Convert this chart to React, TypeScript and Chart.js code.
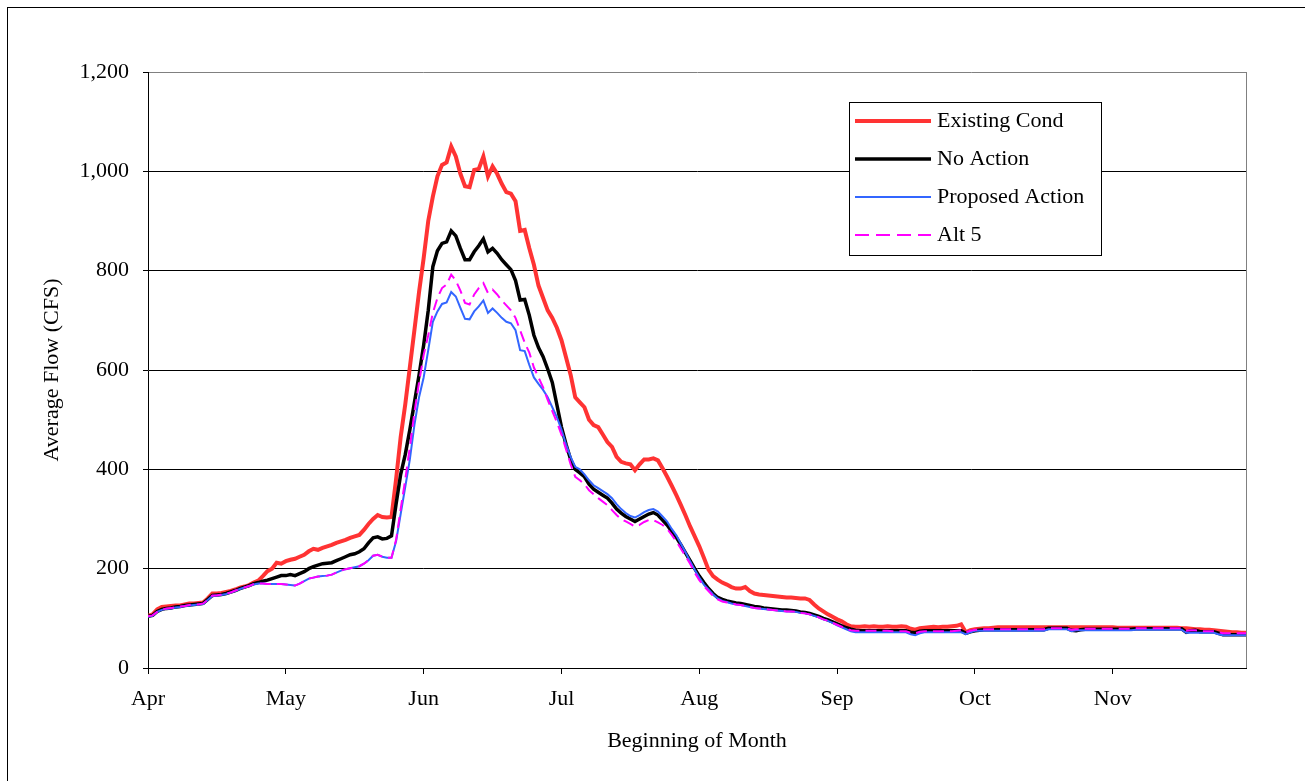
import React, { useEffect, useRef } from 'react';
import { Chart, registerables } from 'chart.js';

Chart.register(...registerables);

// Day index 0 = Apr 1
const MONTH_TICKS = [0, 30, 60, 90, 120, 150, 180, 210];
const MONTH_LABELS = ['Apr', 'May', 'Jun', 'Jul', 'Aug', 'Sep', 'Oct', 'Nov'];
const SERIES_LABELS = ['Existing Cond', 'No Action', 'Proposed Action', 'Alt 5'];

const EXISTING = [
  105, 108, 118, 123, 124, 125, 126, 126, 128, 130,
  130, 131, 132, 140, 150, 150, 151, 153, 155, 158,
  162, 164, 167, 172, 176, 185, 195, 200, 212, 210,
  215, 218, 220, 224, 228, 235, 240, 238, 242, 245,
  248, 252, 255, 258, 262, 265, 268, 278, 290, 300,
  308, 304, 303, 304, 380, 465, 531, 606, 681, 757,
  825, 900, 949, 990, 1013, 1018, 1050, 1030, 995, 970,
  968, 1003, 1005, 1030, 990, 1010, 995, 975, 958, 955,
  940, 880, 882, 845, 812, 770, 745, 720, 705, 685,
  660, 625, 590, 545, 535, 525, 500, 489, 485, 470,
  455, 445, 425, 415, 412, 410, 398, 410, 420, 420,
  422, 418, 402, 385, 367, 348, 328, 307, 285, 265,
  245, 222, 198, 185, 178, 172, 168, 163, 160, 160,
  163, 155, 150, 148, 147, 146, 145, 144, 143, 142,
  142, 141, 140, 140, 137, 128, 120, 114, 108, 103,
  98, 94, 88, 84, 83, 83, 84, 83, 84, 83,
  83, 84, 83, 83, 84, 83, 79, 77, 80, 81,
  82, 83, 82, 83, 83, 84, 85, 88, 72, 76,
  78, 79, 80, 80, 81, 82, 82, 82, 82, 82,
  82, 82, 82, 82, 82, 82, 82, 82, 82, 82,
  82, 82, 82, 82, 82, 82, 82, 82, 82, 82,
  82, 81, 81, 81, 81, 81, 81, 81, 81, 81,
  81, 81, 81, 81, 81, 80, 80, 79, 78, 78,
  77, 77, 76, 75, 74, 73, 72, 72, 71, 71,
];

const NO_ACTION = [
  104, 106, 114, 118, 120, 121, 123, 124, 126, 127,
  128, 129, 130, 138, 146, 147, 148, 150, 153, 156,
  160, 163, 166, 170, 172, 175, 177, 180, 183, 186,
  186, 188, 186, 190, 194, 200, 204, 207, 210, 211,
  212, 216, 220, 224, 228, 230, 234, 240, 252, 262,
  264, 260, 261, 266, 330, 390, 430, 480, 535, 590,
  650, 720, 808, 840, 855, 858, 880, 870, 845, 822,
  822, 838, 850, 864, 838, 845, 835, 822, 812, 802,
  780, 741, 742, 710, 670, 645, 627, 602, 575, 530,
  485, 450, 420, 400, 393, 385, 370, 360, 354, 348,
  342, 332, 320, 312, 305, 300, 295, 300, 305, 310,
  313, 308, 298, 288, 275, 263, 248, 232, 216, 200,
  185, 172, 160, 150, 142, 138, 135, 133, 131, 130,
  128, 126, 124, 123, 121, 120, 119, 118, 117, 117,
  116, 115, 113, 112, 110, 107, 104, 100, 97, 93,
  89, 85, 81, 78, 76, 75, 75, 75, 75, 75,
  75, 75, 75, 75, 75, 75, 72, 71, 74, 75,
  75, 75, 75, 75, 75, 75, 75, 75, 70, 73,
  75, 76, 77, 77, 77, 77, 77, 77, 77, 77,
  77, 77, 77, 77, 77, 77, 80, 80, 80, 80,
  80, 76, 75, 77, 78, 78, 78, 78, 78, 78,
  78, 78, 78, 78, 78, 79, 79, 79, 79, 79,
  79, 79, 79, 79, 79, 79, 72, 75, 76, 73,
  73, 73, 73, 70, 67, 67, 67, 67, 67, 67,
];

const PROPOSED = [
  103, 105, 113, 117, 119, 120, 122, 123, 125, 126,
  127, 128, 129, 137, 145, 146, 147, 149, 152, 155,
  159, 162, 165, 168, 170, 170, 169, 169, 169, 169,
  168, 167, 166, 170, 175, 180, 182, 184, 185, 186,
  188, 192, 196, 199, 201, 203, 205, 210, 217, 226,
  228, 224, 222, 222, 255, 310, 365, 420, 490, 545,
  585, 640, 697, 718, 733, 736, 757, 748, 725, 703,
  702, 718, 728, 740, 715, 724, 715, 705, 697, 694,
  680, 640, 638, 610, 585, 572, 560, 545, 525, 505,
  480, 450, 425, 405, 400, 390, 378, 368, 362, 356,
  350, 342, 330, 320, 312, 306, 303, 308, 314, 318,
  320, 315, 305, 295, 280, 267, 250, 233, 215, 198,
  182, 168, 158, 148, 140, 135, 133, 130, 128, 127,
  125, 123, 121, 120, 119, 118, 117, 116, 115, 114,
  114, 113, 111, 110, 108, 105, 102, 98, 95, 91,
  86, 82, 78, 74, 72, 72, 72, 72, 72, 72,
  72, 72, 72, 72, 72, 72, 68, 66, 70, 72,
  72, 72, 72, 72, 72, 72, 72, 72, 68, 72,
  75, 75, 75, 75, 75, 75, 75, 75, 75, 75,
  75, 75, 75, 75, 75, 75, 78, 78, 78, 78,
  78, 74, 76, 76, 76, 76, 76, 76, 76, 76,
  76, 76, 76, 76, 76, 77, 77, 77, 77, 77,
  77, 77, 77, 77, 77, 77, 71, 71, 71, 71,
  71, 71, 71, 68, 66, 66, 66, 66, 66, 66,
];

const ALT5 = [
  104, 106, 113, 117, 120, 121, 122, 124, 125, 127,
  128, 128, 130, 137, 146, 146, 148, 150, 152, 156,
  159, 162, 165, 169, 170, 170, 169, 169, 169, 169,
  168, 167, 166, 170, 175, 180, 182, 184, 185, 186,
  188, 192, 196, 199, 201, 203, 205, 210, 217, 226,
  228, 224, 222, 222, 258, 320, 380, 445, 515, 575,
  630, 670, 715, 745, 765, 772, 792, 780, 760, 735,
  732, 752, 765, 775, 755, 762, 752, 740, 730, 720,
  705, 680, 655, 635, 605, 585, 565, 540, 517, 495,
  470, 440, 410, 385, 378, 370, 358, 350, 342, 335,
  328, 318, 308, 300, 295, 290, 285, 288, 294, 298,
  298, 293, 288, 280, 268, 255, 240, 225, 210, 192,
  177, 165, 155, 145, 138, 134, 132, 130, 128, 127,
  125, 123, 121, 120, 119, 118, 117, 116, 115, 114,
  114, 113, 111, 110, 108, 105, 102, 98, 95, 91,
  87, 83, 79, 76, 75, 75, 75, 75, 75, 75,
  75, 75, 74, 74, 74, 74, 71, 70, 73, 74,
  74, 74, 74, 74, 74, 74, 75, 76, 72, 75,
  77, 77, 78, 78, 78, 78, 78, 78, 78, 78,
  78, 78, 78, 78, 78, 78, 80, 80, 80, 80,
  80, 77, 78, 78, 79, 79, 79, 79, 79, 79,
  79, 79, 79, 79, 79, 80, 80, 80, 80, 80,
  80, 80, 80, 80, 80, 80, 75, 76, 76, 74,
  74, 74, 74, 72, 70, 70, 70, 70, 70, 70,
];

const DAYS = EXISTING.map((_, i) => i);

const FONT_FAMILY = "'Liberation Serif', 'Times New Roman', serif";

const toPoints = (vals: number[]) => vals.map((v, i) => ({ x: DAYS[i], y: v }));

const framePlugin = {
  id: 'frame',
  afterDraw(chart: any) {
    const { ctx, chartArea } = chart;
    ctx.save();
    ctx.strokeStyle = '#808080';
    ctx.lineWidth = 1;
    const rx = Math.round(chartArea.right) + 0.5;
    ctx.beginPath();
    ctx.moveTo(rx, Math.round(chartArea.top));
    ctx.lineTo(rx, Math.round(chartArea.bottom));
    ctx.stroke();
    ctx.strokeStyle = '#000';
    ctx.strokeRect(7.5, 7.5, 1400, 1000);
    ctx.restore();
  },
};

const legendPlugin = {
  id: 'boxLegend',
  afterDraw(chart: any) {
    const { ctx } = chart;
    const x0 = 849.5, y0 = 102.5, w = 252, h = 153;
    ctx.save();
    ctx.fillStyle = '#fff';
    ctx.fillRect(x0, y0, w, h);
    ctx.strokeStyle = '#000';
    ctx.lineWidth = 1;
    ctx.strokeRect(x0, y0, w, h);
    chart.data.datasets.forEach((ds: any, i: number) => {
      const y = 121 + i * 38;
      ctx.beginPath();
      ctx.strokeStyle = ds.borderColor;
      ctx.lineWidth = ds.borderWidth;
      ctx.setLineDash(ds.borderDash ? [14, 7] : []);
      ctx.moveTo(855, y);
      ctx.lineTo(931, y);
      ctx.stroke();
      ctx.setLineDash([]);
      ctx.fillStyle = '#000';
      ctx.font = `22px ${FONT_FAMILY}`;
      ctx.textBaseline = 'middle';
      ctx.textAlign = 'left';
      ctx.fillText(ds.label, 937, y);
    });
    ctx.restore();
  },
};

export default function App() {
  const ref = useRef<HTMLCanvasElement>(null);

  useEffect(() => {
    if (!ref.current) return;
    const tickFont = { family: FONT_FAMILY, size: 22 };
    const chart = new Chart(ref.current, {
      type: 'line',
      data: {
        datasets: [
          {
            label: SERIES_LABELS[0],
            data: toPoints(EXISTING),
            borderColor: '#FF3333',
            borderWidth: 4,
            order: 4,
          },
          {
            label: SERIES_LABELS[1],
            data: toPoints(NO_ACTION),
            borderColor: '#000000',
            borderWidth: 3.5,
            order: 3,
          },
          {
            label: SERIES_LABELS[2],
            data: toPoints(PROPOSED),
            borderColor: '#3366FF',
            borderWidth: 2,
            order: 2,
          },
          {
            label: SERIES_LABELS[3],
            data: toPoints(ALT5),
            borderColor: '#FF00FF',
            borderWidth: 2,
            borderDash: [11, 6],
            order: 1,
          },
        ],
      },
      options: {
        animation: false,
        responsive: false,
        devicePixelRatio: 1,
        layout: { padding: { top: 72, right: 59, left: 0, bottom: 0 } },
        plugins: { legend: { display: false }, tooltip: { enabled: false } },
        elements: { point: { radius: 0 }, line: { tension: 0, fill: false } },
        scales: {
          x: {
            type: 'linear',
            min: 0,
            max: DAYS[DAYS.length - 1],
            afterBuildTicks: (s: any) => {
              s.ticks = MONTH_TICKS.map((v) => ({ value: v }));
            },
            afterFit: (s: any) => {
              s.height = 113;
            },
            ticks: {
              autoSkip: false,
              maxRotation: 0,
              minRotation: 0,
              padding: 12,
              color: '#000',
              font: tickFont,
              callback: (_v: any, i: number) => MONTH_LABELS[i],
            },
            grid: { drawOnChartArea: false, drawTicks: true, tickLength: 6, color: '#000' },
            border: { display: true, color: '#000', width: 1 },
            title: {
              display: true,
              text: 'Beginning of Month',
              color: '#000',
              font: tickFont,
              padding: { top: 0, bottom: 27 },
            },
          },
          y: {
            min: 0,
            max: 1200,
            afterFit: (s: any) => {
              s.width = 148;
            },
            ticks: {
              stepSize: 200,
              padding: 14,
              color: '#000',
              font: tickFont,
              callback: (v: any) => Number(v).toLocaleString('en-US'),
            },
            grid: {
              color: (c: any) => (c.tick && c.tick.value === 1200 ? '#808080' : '#000'),
              tickColor: '#000',
              tickLength: 5,
              drawTicks: true,
            },
            border: { display: true, color: '#000', width: 1 },
            title: {
              display: true,
              text: 'Average Flow (CFS)',
              color: '#000',
              font: tickFont,
              padding: { top: 39, bottom: 0 },
            },
          },
        },
      } as any,
      plugins: [framePlugin, legendPlugin],
    });
    return () => chart.destroy();
  }, []);

  return (
    <div
      style={{
        position: 'fixed',
        left: 0,
        top: 0,
        width: 1305,
        height: 781,
        overflow: 'hidden',
        background: '#fff',
      }}
    >
      <canvas ref={ref} width={1305} height={781} style={{ display: 'block' }} />
    </div>
  );
}
